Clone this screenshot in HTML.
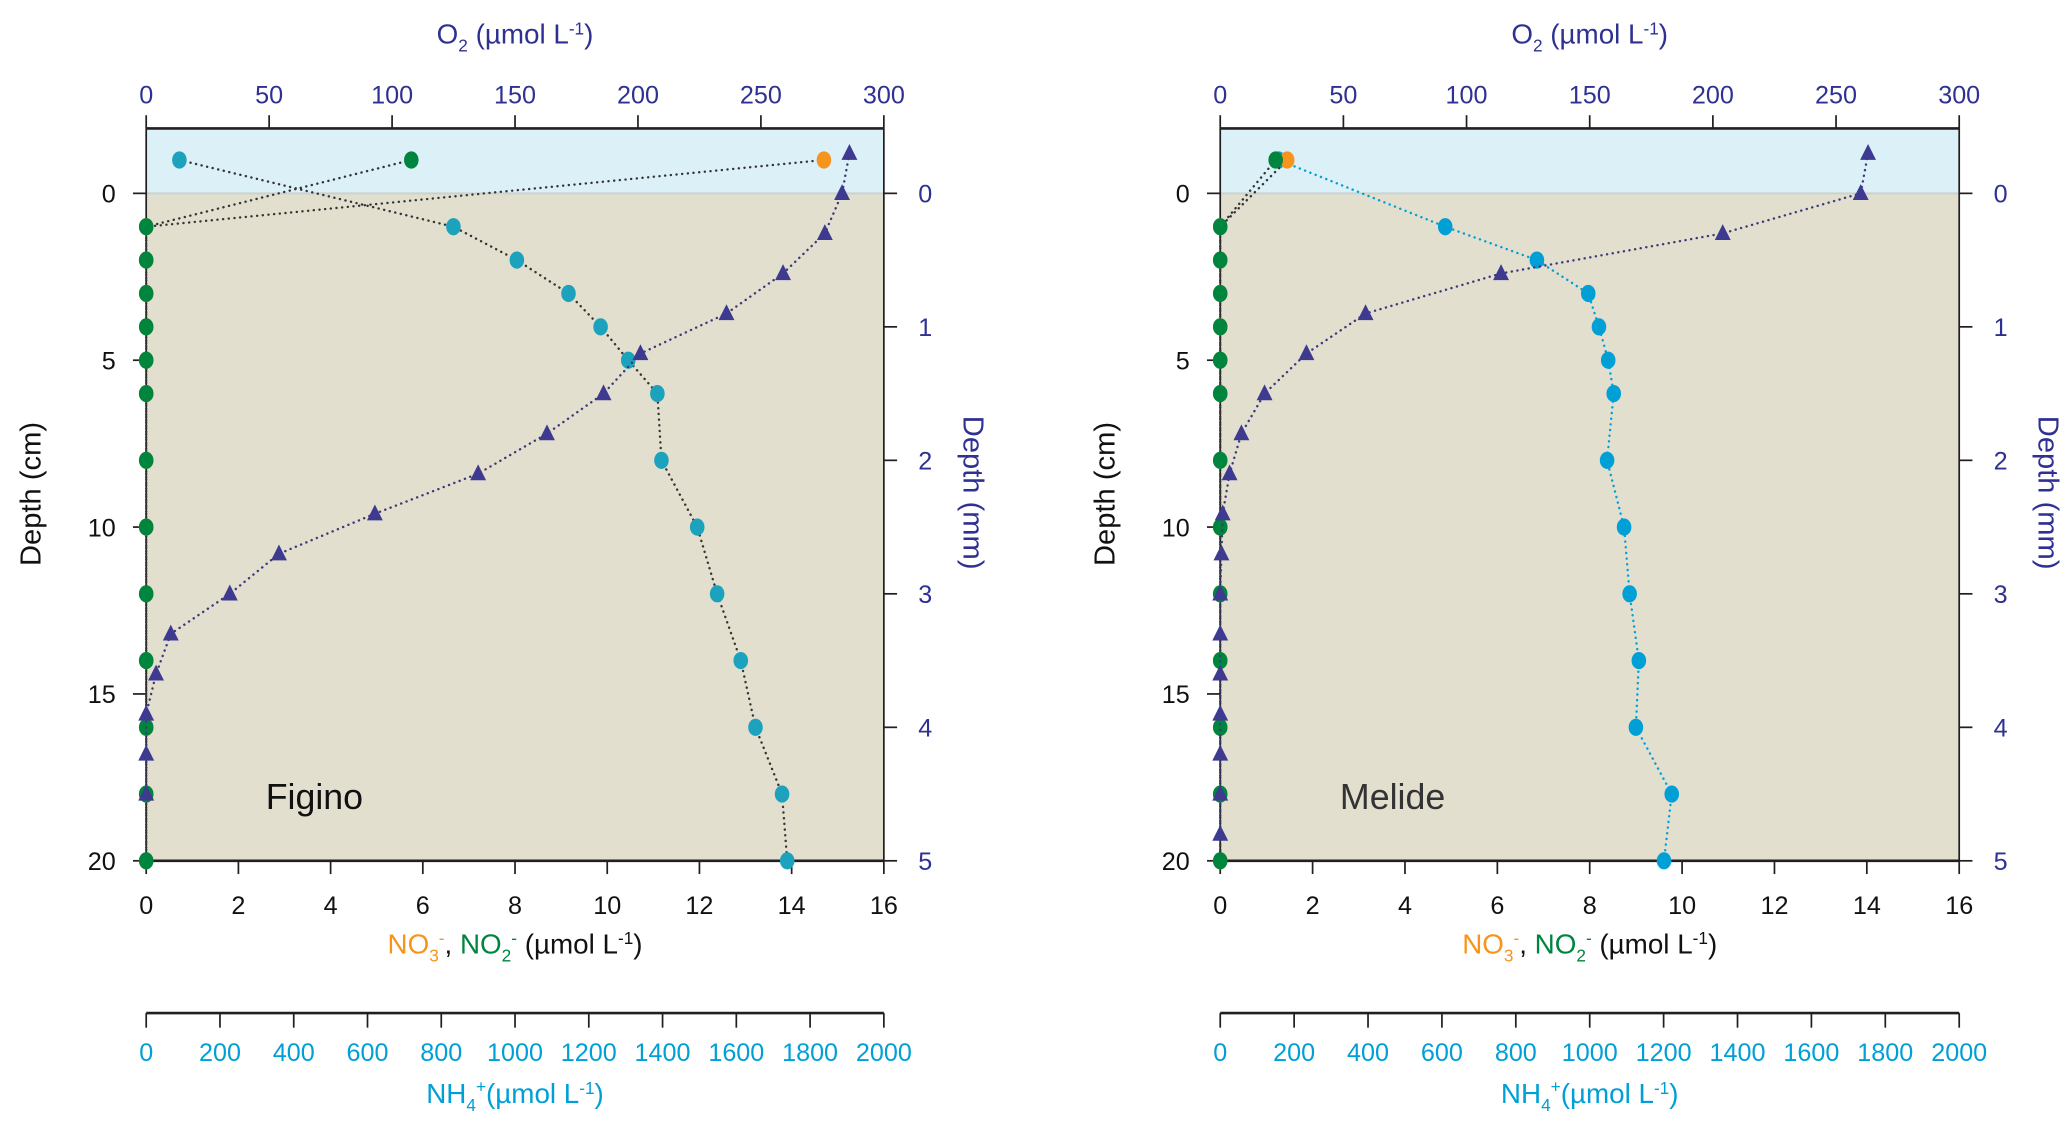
<!DOCTYPE html>
<html><head><meta charset="utf-8">
<style>
html,body{margin:0;padding:0;background:#fff;}
svg{display:block;font-family:"Liberation Sans",sans-serif;}
</style></head>
<body>
<svg id="fig" width="2067" height="1127" viewBox="0 0 1560 851" xmlns="http://www.w3.org/2000/svg"></svg>
<script>
// ---------- DATA ----------
const cmDepths = [1,2,3,4,5,6,8,10,12,14,16,18,20];
const waterDepthCm = -1;
// Figino
const figNO2Water = 5.75;
const figNO2 = [0,0,0,0,0,0,0,0,0,0,0,0,0];
const figNO3Water = 14.7;
const figNO3 = [0,0,0,0,0,0,0,0,0,0,0,0,0];
const figNH4Water = 90;
const figNH4 = [833,1005,1145,1232,1307,1386,1397,1494,1548,1612,1652,1724,1738];
const figO2Depth = [-0.3,0,0.3,0.6,0.9,1.2,1.5,1.8,2.1,2.4,2.7,3.0,3.3,3.6,3.9,4.2,4.5];
const figO2 = [286,283,276,259,236,201,186,163,135,93,54,34,10,4,0,0,0];
// Melide
const melNO2Water = 1.2;
const melNO2 = [0,0,0,0,0,0,0,0,0,0,0,0,0];
const melNO3Water = 1.45;
const melNO3 = [0,0,0,0,0,0,0,0,0,0,0,0,0];
const melNH4Water = 158;
const melNH4 = [609,857,996,1025,1050,1065,1047,1093,1108,1133,1125,1222,1201];
const melO2Depth = [-0.3,0,0.3,0.6,0.9,1.2,1.5,1.8,2.1,2.4,2.7,3.0,3.3,3.6,3.9,4.2,4.5,4.8];
const melO2 = [263,260,204,114,59,35,18,8.6,3.8,1,0.5,0,0,0,0,0,0,0];
// ticks
const noTicks = [0,2,4,6,8,10,12,14,16];
const o2Ticks = [0,50,100,150,200,250,300];
const nh4Ticks = [0,200,400,600,800,1000,1200,1400,1600,1800,2000];
const cmTicks = [0,5,10,15,20];
const mmTicks = [0,1,2,3,4,5];

// ---------- DRAW ----------
const NS="http://www.w3.org/2000/svg";
const svg=document.getElementById('fig');
function mk(tag,attrs,parent){const e=document.createElementNS(NS,tag);for(const k in attrs)e.setAttribute(k,attrs[k]);(parent||svg).appendChild(e);return e;}
const BLUE="#2e3192", ORANGE="#f7941d", GREEN="#00853f", AXIS="#231f20";

function panel(p){
  const g=mk('g',{});
  
  
  const L=p.x0,R=p.x1,T=97,B=650,Y0=146;
  const yCm=d=>Y0+(B-Y0)*d/20;
  const yMm=d=>Y0+(B-Y0)*d/5;
  const xNO=v=>L+(R-L)*v/16;
  const xO2=v=>L+(R-L)*v/300;
  const xNH=v=>L+(R-L)*v/2000;
  let e;
  e=mk('rect',{x:L,y:T,width:R-L,height:Y0-T,fill:'#dcf0f7'},g);
  
  e=mk('rect',{x:L,y:Y0,width:R-L,height:B-Y0,fill:'#e3dfcf'},g);
  
  mk('line',{x1:L,y1:Y0,x2:R,y2:Y0,stroke:'#c9d3cf','stroke-width':1.5},g);
  const ax=mk('g',{stroke:AXIS,'stroke-width':2,fill:'none'},g);
  
  mk('line',{x1:L,y1:T,x2:R,y2:T},ax);
  mk('line',{x1:L,y1:B,x2:R,y2:B},ax);
  mk('line',{x1:L,y1:T,x2:L,y2:B,'stroke-width':1.3},ax);
  mk('line',{x1:R,y1:T,x2:R,y2:B,'stroke-width':1.3},ax);
  o2Ticks.forEach(v=>{const x=xO2(v);mk('line',{x1:x,y1:T,x2:x,y2:T-10,stroke:AXIS,'stroke-width':1.3},g);
    e=mk('text',{x:x,y:78,'font-size':19,fill:BLUE,'text-anchor':'middle'},g);e.textContent=v;
    });
  e=mk('text',{x:(L+R)/2,y:33,'font-size':21,fill:BLUE,'text-anchor':'middle'},g);
  e.innerHTML='O<tspan font-size="13" dy="6">2</tspan><tspan dy="-6"> (µmol L</tspan><tspan font-size="13" dy="-7">-1</tspan><tspan dy="7">)</tspan>';
  
  noTicks.forEach(v=>{const x=xNO(v);mk('line',{x1:x,y1:B,x2:x,y2:B+10,stroke:AXIS,'stroke-width':1.3},g);
    e=mk('text',{x:x,y:690,'font-size':19,fill:'#111','text-anchor':'middle'},g);e.textContent=v;
    });
  e=mk('text',{x:(L+R)/2,y:720,'font-size':21,fill:'#111','text-anchor':'middle'},g);
  e.innerHTML='<tspan fill="'+ORANGE+'">NO</tspan><tspan fill="'+ORANGE+'" font-size="13" dy="6">3</tspan><tspan fill="'+ORANGE+'" font-size="13" dy="-13">-</tspan><tspan dy="7">, </tspan><tspan fill="'+GREEN+'">NO</tspan><tspan fill="'+GREEN+'" font-size="13" dy="6">2</tspan><tspan fill="'+GREEN+'" font-size="13" dy="-13">-</tspan><tspan dy="7"> (µmol L</tspan><tspan font-size="13" dy="-7">-1</tspan><tspan dy="7">)</tspan>';
  
  mk('line',{x1:L,y1:765,x2:R,y2:765,stroke:AXIS,'stroke-width':2},g);
  nh4Ticks.forEach(v=>{const x=xNH(v);mk('line',{x1:x,y1:765,x2:x,y2:776,stroke:AXIS,'stroke-width':1.3},g);
    e=mk('text',{x:x,y:801,'font-size':19,fill:'#00a0d6','text-anchor':'middle'},g);e.textContent=v;
    });
  e=mk('text',{x:(L+R)/2,y:833,'font-size':21,fill:'#00a0d6','text-anchor':'middle'},g);
  e.innerHTML='NH<tspan font-size="13" dy="6">4</tspan><tspan font-size="13" dy="-14">+</tspan><tspan dy="8">(µmol L</tspan><tspan font-size="13" dy="-7">-1</tspan><tspan dy="7">)</tspan>';
  
  cmTicks.forEach(v=>{const y=yCm(v);mk('line',{x1:L,y1:y,x2:L-10,y2:y,stroke:AXIS,'stroke-width':1.3},g);
    e=mk('text',{x:L-23,y:y+7,'font-size':19,fill:'#111','text-anchor':'end'},g);e.textContent=v;
    });
  e=mk('text',{x:0,y:0,'font-size':22,fill:'#111','text-anchor':'middle',transform:'translate('+(L-80)+',373) rotate(-90)'},g);
  e.textContent='Depth (cm)';
  mmTicks.forEach(v=>{const y=yMm(v);mk('line',{x1:R,y1:y,x2:R+10,y2:y,stroke:AXIS,'stroke-width':1.3},g);
    e=mk('text',{x:R+26,y:y+7,'font-size':19,fill:BLUE,'text-anchor':'start'},g);e.textContent=v;
    });
  e=mk('text',{x:0,y:0,'font-size':22,fill:BLUE,'text-anchor':'middle',transform:'translate('+(R+60)+',372) rotate(90)'},g);
  e.textContent='Depth (mm)';
  e=mk('text',{x:L+(R-L)*0.162,y:611,'font-size':27,fill:p.labelColor},g);
  e.textContent=p.name;

  function series(name,xs,ys,lineColor,color,shape){
    const sg=mk('g',{},g);
    
    const pts=xs.map((v,i)=>[v,ys[i]]);
    mk('polyline',{points:pts.map(q=>q.join(',')).join(' '),fill:'none',stroke:lineColor,'stroke-width':1.8,'stroke-dasharray':'0.1 4.2','stroke-linecap':'round'},sg);
    pts.forEach(q=>{
      let m;
      if(shape==='tri'){m=mk('polygon',{points:(q[0])+','+(q[1]-7)+' '+(q[0]-6)+','+(q[1]+5)+' '+(q[0]+6)+','+(q[1]+5),fill:color},sg);}
      else {m=mk('ellipse',{cx:q[0],cy:q[1],rx:5.5,ry:6.5,fill:color},sg);}
      
    });
  }
  const allCm=[waterDepthCm].concat(cmDepths);
  series('nh4-series',[p.nh4W].concat(p.nh4).map(xNH),allCm.map(yCm),p.nh4Line,p.nh4Color,'dot');
  series('no3-series',[p.no3W].concat(p.no3).map(xNO),allCm.map(yCm),'#333',ORANGE,'dot');
  series('no2-series',[p.no2W].concat(p.no2).map(xNO),allCm.map(yCm),'#333',GREEN,'dot');
  series('o2-series',p.o2.map(xO2),p.o2d.map(yMm),'#3a3a7a','#3d3a8f','tri');
}
panel({name:'Figino',x0:110,x1:667,labelColor:'#111',nh4W:figNH4Water,nh4:figNH4,no3W:figNO3Water,no3:figNO3,no2W:figNO2Water,no2:figNO2,o2:figO2,o2d:figO2Depth,nh4Line:'#333',nh4Color:'#1ca2bd'});
panel({name:'Melide',x0:921,x1:1479,labelColor:'#333',nh4W:melNH4Water,nh4:melNH4,no3W:melNO3Water,no3:melNO3,no2W:melNO2Water,no2:melNO2,o2:melO2,o2d:melO2Depth,nh4Line:'#00a0d6',nh4Color:'#00a0d6'});
</script>
</body></html>
